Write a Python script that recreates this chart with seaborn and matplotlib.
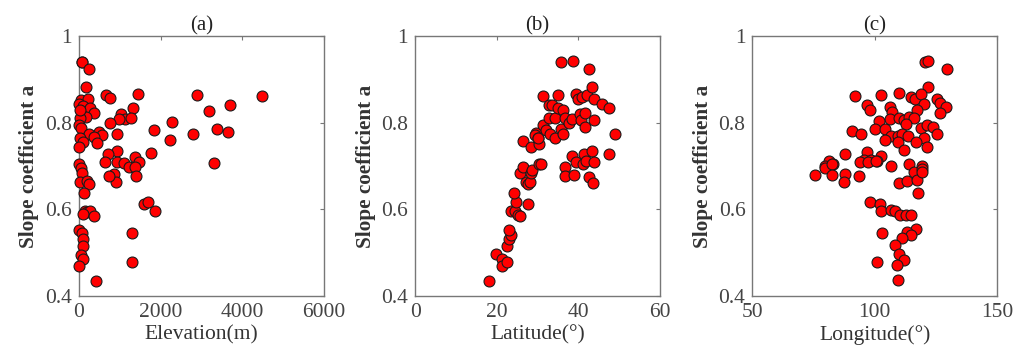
import numpy as np
import pandas as pd
import matplotlib
matplotlib.use('Agg')
import matplotlib.pyplot as plt
import matplotlib.ticker as mticker
import seaborn as sns

# panel (a): elevation (m) vs slope coefficient
elev = [65, 70, 245, 163, 41, 228, 0, 106, 269, 367, 171, 24, 0, 49, 245, 24, 90, 0,
        661, 759, 1444, 1330, 1028, 1126, 979, 1281, 759, 498, 555, 375, 432, 922,
        1844, 2285, 2228, 2799, 2897, 3174, 3378, 3639, 3688, 3297, 4488,
        938, 718, 645, 922, 1102, 1216, 1363, 1477, 1371, 1395, 865, 906, 726, 1763,
        8, 49, 73, 24, 204, 253, 122, 1591, 1681, 1861, 147, 204, 269, 106, 367,
        0, 65, 106, 106, 57, 90, 0, 1305, 1289, 424, 24]
slope_a = [0.941, 0.94, 0.924, 0.882, 0.852, 0.854, 0.843, 0.838, 0.833, 0.822, 0.814,
           0.81, 0.795, 0.787, 0.773, 0.764, 0.756, 0.745,
           0.865, 0.858, 0.866, 0.835, 0.82, 0.808, 0.808, 0.81, 0.799, 0.779, 0.772,
           0.768, 0.754, 0.775,
           0.783, 0.802, 0.76, 0.774, 0.864, 0.828, 0.785, 0.778, 0.84, 0.708, 0.862,
           0.735, 0.727, 0.709, 0.71, 0.708, 0.699, 0.722, 0.71, 0.699, 0.678, 0.681,
           0.664, 0.677, 0.731,
           0.706, 0.695, 0.685, 0.664, 0.665, 0.658, 0.637, 0.612, 0.616, 0.596, 0.597,
           0.595, 0.597, 0.589, 0.585,
           0.552, 0.545, 0.531, 0.516, 0.495, 0.485, 0.47, 0.545, 0.479, 0.435, 0.83]

# panel (b): latitude vs slope coefficient
lat = [18.0, 19.8, 21.2, 21.2, 22.6, 22.4, 23.0, 23.4, 23.0, 23.4, 24.5, 25.1, 25.6,
       24.8, 24.2, 27.7, 27.1, 27.7, 28.1, 25.7, 26.3, 28.3, 28.7, 30.4, 30.9, 26.5,
       28.3, 29.5, 29.4, 30.2, 30.4, 30.0, 31.2, 32.0, 31.2, 32.7, 33.5, 32.9, 34.3,
       33.0, 34.3, 34.9, 35.7, 38.7, 35.1, 36.3, 35.7, 36.2, 36.7, 37.6, 38.3, 36.7,
       36.6, 38.3, 38.9, 39.3, 39.5, 39.8, 40.8, 40.3, 40.7, 41.6, 41.5, 42.0, 42.6,
       43.3, 43.7, 43.8, 41.4, 41.1, 41.8, 42.6, 43.4, 43.8, 43.6, 45.7, 47.5, 47.5,
       48.9]
slope_b = [0.435, 0.496, 0.485, 0.47, 0.478, 0.516, 0.531, 0.541, 0.552, 0.596, 0.596,
           0.587, 0.585, 0.616, 0.637, 0.612, 0.664, 0.658, 0.664, 0.685, 0.699, 0.683,
           0.692, 0.704, 0.706, 0.758, 0.743, 0.777, 0.772, 0.766, 0.752, 0.765, 0.795,
           0.783, 0.862, 0.841, 0.841, 0.81, 0.81, 0.775, 0.766, 0.864, 0.94, 0.942,
           0.833, 0.829, 0.785, 0.774, 0.812, 0.80, 0.808, 0.699, 0.678, 0.723, 0.679,
           0.71, 0.867, 0.854, 0.86, 0.82, 0.806, 0.822, 0.791, 0.865, 0.925, 0.882,
           0.855, 0.806, 0.729, 0.706, 0.712, 0.675, 0.735, 0.709, 0.662, 0.843, 0.833,
           0.728, 0.773]

# panel (c): longitude vs slope coefficient
lon = [120.4, 121.7, 129.3, 121.9, 92.1, 102.6, 109.8, 114.6, 116.4, 118.7, 125.2,
       126.5, 129.0, 126.8, 96.9, 98.1, 106.3, 120.1, 117.4, 107.1, 106.0, 101.6,
       109.8, 111.9, 113.9, 116.0, 112.6, 100.0, 104.0, 90.7, 94.5, 118.7, 121.2,
       123.8, 106.4, 109.4, 111.2, 113.7, 104.1, 120.1, 125.2, 109.4, 116.7, 121.2,
       111.9, 87.7, 96.9, 102.6, 95.5, 98.6, 101.0, 113.9, 119.1, 81.1, 82.8, 79.8,
       106.4,
       75.4, 79.5, 82.5, 82.5, 88.0, 87.3, 93.4, 94.1, 97.1, 100.3, 109.8, 113.0,
       116.0, 117.4, 119.1, 119.4, 117.8, 98.2, 102.0, 102.6, 106.4, 108.1, 110.2,
       112.9, 114.9, 103.0, 116.7, 113.0, 114.6, 111.2, 108.1, 109.8, 111.9, 101.0,
       109.2, 109.4]
slope_c = [0.940, 0.943, 0.925, 0.883, 0.862, 0.865, 0.869, 0.859, 0.855, 0.867, 0.856,
           0.846, 0.836, 0.823, 0.842, 0.829, 0.836, 0.844, 0.830, 0.824, 0.809, 0.803,
           0.811, 0.807, 0.814, 0.810, 0.797, 0.786, 0.786, 0.780, 0.774, 0.787, 0.796,
           0.791, 0.770, 0.769, 0.773, 0.770, 0.761, 0.765, 0.774, 0.755, 0.755, 0.744,
           0.738, 0.728, 0.732, 0.724, 0.713, 0.713, 0.711, 0.706, 0.700, 0.711, 0.706,
           0.700, 0.700,
           0.680, 0.696, 0.706, 0.679, 0.682, 0.664, 0.678, 0.709, 0.709, 0.711, 0.660,
           0.665, 0.686, 0.667, 0.693, 0.686, 0.638, 0.617, 0.613, 0.597, 0.598, 0.597,
           0.588, 0.587, 0.588, 0.546, 0.554, 0.547, 0.542, 0.533, 0.517, 0.497, 0.484,
           0.479, 0.471, 0.437]

panels = [
    ('(a)', 'Elevation(m)', elev, slope_a, (0, 6000), [0, 2000, 4000, 6000]),
    ('(b)', 'Latitude(°)', lat, slope_b, (0, 60), [0, 20, 40, 60]),
    ('(c)', 'Longitude(°)', lon, slope_c, (50, 150), [50, 100, 150]),
]
lefts = [0.077, 0.405, 0.734]

sns.set_style('white')
plt.rcParams['font.family'] = ['Liberation Serif', 'DejaVu Serif']

fig = plt.figure(figsize=(10.25, 3.58), dpi=100)
grey = '#444444'

for (title, xlab, xs, ys, xlim, xticks), left in zip(panels, lefts):
    ax = fig.add_axes([left, 0.173, 0.239, 0.726])
    df = pd.DataFrame({'x': xs, 'y': ys})
    sns.scatterplot(data=df, x='x', y='y', ax=ax, color='#ff0000',
                    edgecolor='#1a1a1a', linewidth=0.8, s=62, zorder=3,
                    clip_on=False)
    ax.set_xlim(*xlim)
    ax.set_ylim(0.4, 1.0)
    ax.set_xticks(xticks)
    ax.set_yticks([0.4, 0.6, 0.8, 1.0])
    ax.yaxis.set_major_formatter(mticker.FuncFormatter(lambda v, p: '%g' % round(v, 2)))
    ax.tick_params(direction='in', top=True, right=True, length=3, width=0.8,
                   colors='#777777', labelcolor=grey, labelsize=15.5, pad=5)
    for sp in ax.spines.values():
        sp.set_color('#777777')
        sp.set_linewidth(1.0)
    ax.set_title(title, fontsize=15, color='#222222', pad=4)
    ax.set_xlabel(xlab, fontsize=15.5, color='#333333', labelpad=2)
    ax.set_ylabel('Slope coefficient a', fontsize=15.3, fontweight='bold',
                  color='#333333', labelpad=4)

fig.savefig('out.png', dpi=100)
